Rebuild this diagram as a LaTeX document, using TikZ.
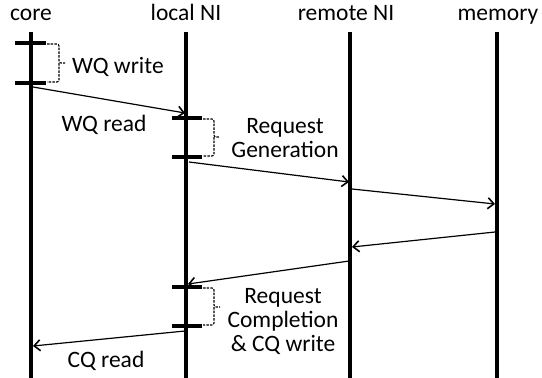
\documentclass[tikz,border=0pt]{standalone}
\usepackage{fontspec}
\setmainfont{Carlito}
\usetikzlibrary{arrows.meta}
\begin{document}
\begin{tikzpicture}[x=1pt,y=-1pt,
  font=\fontsize{23.5}{24}\selectfont,
  lifeline/.style={line width=4pt},
  tickmark/.style={line width=4pt},
  msg/.style={line width=1.2pt,-{Straight Barb[length=6pt,width=11pt,line width=1.6pt]}},
  bracket/.style={line width=1.1pt, dash pattern=on 2.5pt off 1.2pt, rounded corners=2pt},
  title/.style={anchor=base, inner sep=0pt},
  lbl/.style={inner sep=0pt},
]
\useasboundingbox (0,0) rectangle (542,378);
% titles
\node[title] (core) at (31,20) {core};
\node[title] (lni) at (186,20) {local NI};
\node[title] (rni) at (346,20) {remote NI};
\node[title] (mem) at (498,20) {memory};
% lifelines
\coordinate (coreT) at (31,32);   \coordinate (coreB) at (31,378);
\coordinate (lniT) at (186,32);   \coordinate (lniB) at (186,378);
\coordinate (rniT) at (350,32);   \coordinate (rniB) at (350,378);
\coordinate (memT) at (497,32);   \coordinate (memB) at (497,378);
\draw[lifeline] (coreT) -- (coreB);
\draw[lifeline] (lniT) -- (lniB);
\draw[lifeline] (rniT) -- (rniB);
\draw[lifeline] (memT) -- (memB);
% ticks
\draw[tickmark] (15,43) -- (46,43);
\draw[tickmark] (15,83) -- (46,83);
\draw[tickmark] (172,118) -- (202,118);
\draw[tickmark] (172,157) -- (202,157);
\draw[tickmark] (172,287) -- (202,287);
\draw[tickmark] (172,326) -- (202,326);
% brackets
\draw[bracket] (47,44) -| (59,63) -- (65,63);
\draw[bracket] (59,63) |- (47,82);
\draw[bracket] (203,119) -| (214,137) -- (220,137);
\draw[bracket] (214,137) |- (203,156);
\draw[bracket] (203,288) -| (214,307) -- (220,307);
\draw[bracket] (214,307) |- (203,325);
% labels
\node[lbl, anchor=base west] (wqw) at (72,73) {WQ write};
\node[lbl, anchor=base] (wqr) at (104,131) {WQ read};
\node[lbl, anchor=base] (cqr) at (106,367) {CQ read};
\node[lbl, align=center] (rg) at (285,138) {Request\\Generation};
\node[lbl, align=center] (rc) at (283,322) {Request\\Completion\\\& CQ write};
% messages
\coordinate (m1s) at (33,87);   \coordinate (m1e) at (185,113);
\coordinate (m2s) at (189,162); \coordinate (m2e) at (349,182);
\coordinate (m3s) at (352,189); \coordinate (m3e) at (495,204);
\coordinate (m4s) at (495,232); \coordinate (m4e) at (352,247);
\coordinate (m5s) at (349,261); \coordinate (m5e) at (188,284);
\coordinate (m6s) at (185,331); \coordinate (m6e) at (33,346);
\draw[msg] (m1s) -- (m1e);
\draw[msg] (m2s) -- (m2e);
\draw[msg] (m3s) -- (m3e);
\draw[msg] (m4s) -- (m4e);
\draw[msg] (m5s) -- (m5e);
\draw[msg] (m6s) -- (m6e);
\end{tikzpicture}
\end{document}
